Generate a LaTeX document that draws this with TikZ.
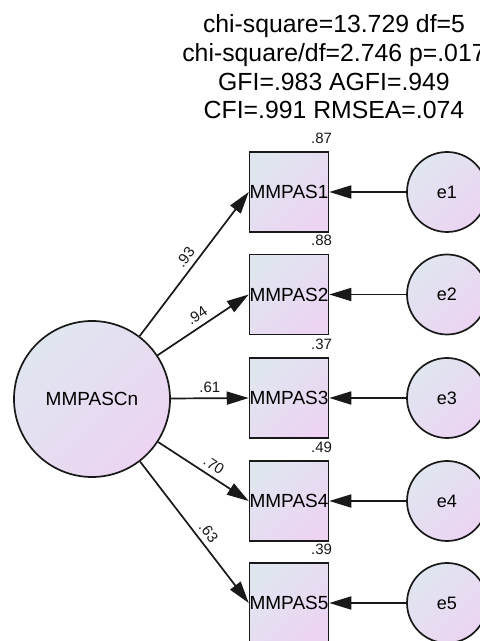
\documentclass[tikz,border=0pt]{standalone}
\usepackage{fontspec}
\setmainfont{Liberation Sans}
\usetikzlibrary{arrows.meta,shapes.geometric}
\definecolor{gtl}{RGB}{224,230,240}
\definecolor{gbr}{RGB}{236,212,242}
\definecolor{ln}{RGB}{25,25,25}
\tikzset{
  x=1pt,y=1pt,
  grad/.style={top color=gtl,bottom color=gbr,shading angle=45},
  obs/.style={draw=ln,line width=1.7pt,grad,minimum width=78pt,minimum height=80pt,inner sep=0pt,font=\fontsize{19}{19}\selectfont},
  err/.style={circle,draw=ln,line width=1.7pt,grad,minimum size=80pt,inner sep=0pt,font=\fontsize{18}{18}\selectfont},
  lat/.style={circle,draw=ln,line width=1.7pt,grad,minimum size=156pt,inner sep=0pt,font=\fontsize{19}{19}\selectfont},
  arr/.style={draw=ln,line width=1.7pt,-{Triangle[length=22pt,width=13pt]}},
  coef/.style={font=\fontsize{15}{15}\selectfont,text=ln,inner sep=0pt},
  rsq/.style={font=\fontsize{15}{15}\selectfont,text=ln,inner sep=0pt,anchor=base east},
  hdr/.style={font=\fontsize{24.8}{24.8}\selectfont,text=black,anchor=base,inner sep=0pt}
}
\begin{document}
\begin{tikzpicture}
\clip (0,0) rectangle (480,641);
\useasboundingbox (0,0) rectangle (480,641);
\fill[white] (0,0) rectangle (480,641);
% header
\node[hdr] (h1) at (334,608) {chi-square=13.729 df=5};
\node[hdr] (h2) at (334,579) {chi-square/df=2.746 p=.017};
\node[hdr] (h3) at (334,550) {GFI=.983 AGFI=.949};
\node[hdr] (h4) at (334,522) {CFI=.991 RMSEA=.074};
% latent
\node[lat] (C) at (92,242) {MMPASCn};
% observed
\node[obs] (b1) at (289,449) {MMPAS1};
\node[obs] (b2) at (289,346.5) {MMPAS2};
\node[obs] (b3) at (289,243) {MMPAS3};
\node[obs] (b4) at (289,140) {MMPAS4};
\node[obs] (b5) at (289,38) {MMPAS5};
% errors
\node[err] (e1) at (447,449) {e1};
\node[err] (e2) at (447,346.5) {e2};
\node[err] (e3) at (447,243) {e3};
\node[err] (e4) at (447,140) {e4};
\node[err] (e5) at (447,38) {e5};
% R squared
\node[rsq] (r1) at ([shift={(3,8)}]b1.north east) {.87};
\node[rsq] (r2) at ([shift={(3,8)}]b2.north east) {.88};
\node[rsq] (r3) at ([shift={(3,8)}]b3.north east) {.37};
\node[rsq] (r4) at ([shift={(3,8)}]b4.north east) {.49};
\node[rsq] (r5) at ([shift={(3,8)}]b5.north east) {.39};
% loadings
\draw[arr] (C) -- node[coef,sloped,above=5pt,pos=0.5] (l1) {.93} (b1.west);
\draw[arr] (C) -- node[coef,sloped,above=5pt,pos=0.5] (l2) {.94} (b2.west);
\draw[arr] (C) -- node[coef,above=5pt,pos=0.5] (l3) {.61} (b3.west);
\draw[arr] (C) -- node[coef,sloped,above=5pt,pos=0.55] (l4) {.70} (b4.west);
\draw[arr] (C) -- node[coef,sloped,above=5pt,pos=0.55] (l5) {.63} (b5.west);
% error arrows
\draw[arr] (e1) -- (b1.east);
\draw[arr] (e2) -- (b2.east);
\draw[arr] (e3) -- (b3.east);
\draw[arr] (e4) -- (b4.east);
\draw[arr] (e5) -- (b5.east);
\end{tikzpicture}
\end{document}
